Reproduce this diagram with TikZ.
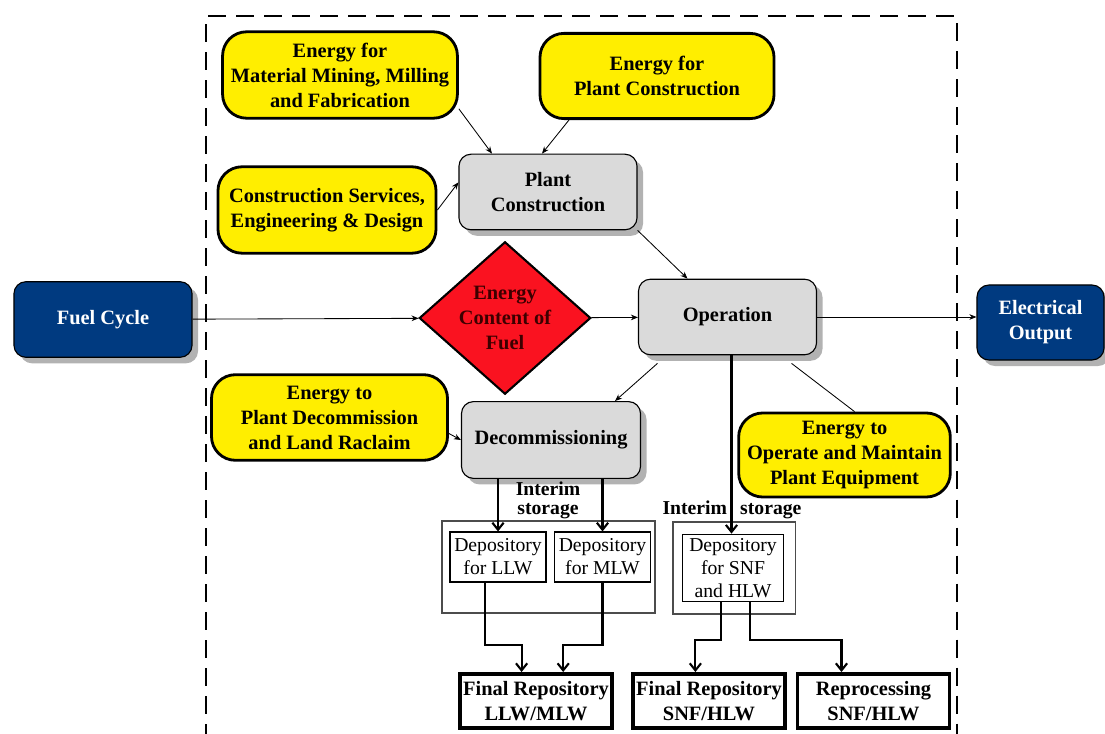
\documentclass[tikz,border=0pt]{standalone}
\usepackage{fontspec}
\setmainfont{Liberation Serif}
\usetikzlibrary{shapes.geometric,shadows,arrows.meta}
\definecolor{boxyellow}{RGB}{255,238,0}
\definecolor{boxgray}{RGB}{218,218,218}
\definecolor{boxblue}{RGB}{0,58,128}
\definecolor{fuelred}{RGB}{250,18,32}
\definecolor{fueltext}{RGB}{60,0,0}
\newcommand{\bigbold}{\fontsize{14.5}{17.8}\selectfont\bfseries}
\begin{document}
\begin{tikzpicture}
    [x=0.025cm,y=-0.025cm,inner sep=0pt,
     energybox/.style={draw,line width=2pt,fill=boxyellow,rounded corners=0.6cm,align=center,font=\bigbold},
     stagebox/.style={draw,line width=0.8pt,fill=boxgray,rounded corners=0.3cm,align=center,font=\bigbold,
       minimum width=4.45cm,minimum height=1.89cm,
       drop shadow={shadow xshift=0.15cm,shadow yshift=-0.15cm,fill=black!55,opacity=0.55}},
     endbox/.style={stagebox,fill=boxblue,text=white},
     depobox/.style={draw,line width=0.8pt,align=center,font=\fontsize{14}{16.4}\selectfont,minimum height=1.25cm},
     storebox/.style={draw=black!70,line width=1.3pt},
     finalbox/.style={draw,line width=2.5pt,align=center,font=\bigbold,minimum width=3.81cm,minimum height=1.36cm},
     flow/.style={-{Stealth[length=5pt,width=4pt]},line width=0.6pt},
     waste/.style={-{Straight Barb[length=5pt,width=8pt]},line width=1.5pt}]
    \useasboundingbox (0,0) rectangle (1105,734);
    % boundary of the plant
    \draw [line width=1.5pt,dash pattern=on 0.45cm off 0.25cm] (206,770) -- (206,16) -- (957,16) -- (957,770);
    \node (mining) at (340,75) [energybox,minimum width=5.87cm,minimum height=2.16cm] {Energy for\\Material Mining, Milling\\and Fabrication};
    \node (buildenergy) at (657,76) [energybox,minimum width=5.85cm,minimum height=2.13cm] {Energy for\\Plant Construction};
    \node (services) at (327,210) [energybox,minimum width=5.45cm,minimum height=2.16cm] {Construction Services,\\Engineering \& Design};
    \node (plant) at (548,192) [stagebox] {Plant\\Construction};
    \node (content) at (505,318) [diamond,draw,line width=1.5pt,fill=fuelred,text=fueltext,aspect=1.12,
      minimum width=4.285cm,minimum height=3.81cm,align=center,font=\bigbold] {Energy\\Content of\\Fuel};
    \node (operation) at (727.5,317) [stagebox] {Operation};
    \node (fuel) at (103,319.5) [endbox] {Fuel Cycle};
    \node (output) at (1040.5,322.5) [endbox,minimum width=3.175cm,minimum height=1.875cm] {Electrical\\Output};
    \node (decomenergy) at (329.5,417.5) [energybox,minimum width=5.9cm,minimum height=2.14cm] {Energy to\\Plant Decommission\\and Land Raclaim};
    \node (decom) at (551,440) [stagebox,minimum width=4.475cm,minimum height=1.92cm] {Decommissioning};
    \node (maintain) at (844.5,455) [energybox,minimum width=5.29cm,minimum height=2.1cm] {Energy to\\Operate and Maintain\\Plant Equipment};
    % interim storage
    \node (storeL) at (548.5,567) [storebox,minimum width=5.34cm,minimum height=2.29cm] {};
    \node (storeR) at (734,568) [storebox,minimum width=3.07cm,minimum height=2.28cm] {};
    \node (llw) at (498,557) [depobox,minimum width=2.4cm] {Depository\\for LLW};
    \node (mlw) at (602.5,557) [depobox,minimum width=2.4cm] {Depository\\for MLW};
    \node (snf) at (733,568) [depobox,minimum width=2.52cm,minimum height=1.69cm] {Depository\\for SNF\\and HLW};
    \node (interimL) at (548,500) [font=\fontsize{14}{13.5}\selectfont\bfseries,align=center] {Interim\\storage};
    \node (interimR) at (732,510) [font=\fontsize{14}{13.5}\selectfont\bfseries] {Interim\hspace{0.33cm}storage};
    % final disposal
    \node (finalL) at (536,701) [finalbox] {Final Repository\\LLW/MLW};
    \node (finalR) at (709,701) [finalbox] {Final Repository\\SNF/HLW};
    \node (repro) at (873.5,701) [finalbox] {Reprocessing\\SNF/HLW};
    % energy flows
    \draw [flow] (fuel) to (content);
    \draw [flow] (content) to (operation);
    \draw [flow] (operation.east) to (operation.east -| output.west);
    \draw [flow] ([yshift=0.27cm]mining.south east) to ([xshift=-1.4cm]plant.north);
    \draw [flow] ([xshift=-2.2cm]buildenergy.south) to ([xshift=-0.15cm]plant.north);
    \draw [flow] (services.east) to ([yshift=0.24cm]plant.west);
    \draw [flow] (plant.south east) to ([xshift=-1cm]operation.north);
    \draw [flow] ([xshift=-1.75cm,yshift=-0.2cm]operation.south) to ([xshift=1.6cm]decom.north);
    \draw [line width=0.6pt] ([xshift=1.6cm,yshift=-0.2cm]operation.south) to ([xshift=0.25cm]maintain.north);
    \draw [flow] ([yshift=-0.4cm]decomenergy.east) to (decom.west);
    % waste streams
    \coordinate (opdrop) at ([xshift=0.1cm]operation.south);
    \draw [waste] (opdrop) -- (opdrop |- snf.north);
    \draw [waste] (decom.south -| llw.north) -- (llw.north);
    \draw [waste] (decom.south -| mlw.north) -- (mlw.north);
    \draw [waste] ([xshift=-0.33cm]llw.south) -- ++(0,62) -| ([xshift=-0.36cm]finalL.north);
    \draw [waste] (mlw.south) -- ++(0,62) -| ([xshift=0.68cm]finalL.north);
    \draw [waste] ([xshift=-0.3cm]snf.south) -- ++(0,38) -| ([xshift=-0.34cm]finalR.north);
    \draw [waste] ([xshift=0.43cm]snf.south) -- ++(0,38) -| ([xshift=-0.8cm]repro.north);
\end{tikzpicture}
\end{document}
